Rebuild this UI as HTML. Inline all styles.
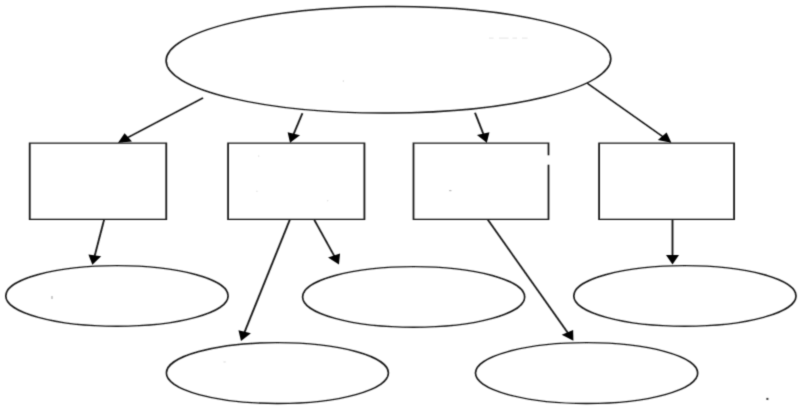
<!DOCTYPE html>
<html><head><meta charset="utf-8"><style>
html,body{margin:0;padding:0;background:#fff;}
body{width:800px;height:416px;overflow:hidden;font-family:"Liberation Sans",sans-serif;}
svg{display:block;}
</style></head><body>
<svg width="800" height="416" viewBox="0 0 800 416">
<defs><filter id="bl" x="0" y="0" width="800" height="416" filterUnits="userSpaceOnUse"><feConvolveMatrix order="3" kernelMatrix="0.0225 0.1050 0.0225 0.1050 0.4900 0.1050 0.0225 0.1050 0.0225" edgeMode="none"/></filter></defs>
<rect width="800" height="416" fill="#fff"/>
<g filter="url(#bl)">
<g transform="scale(1.15 1)" stroke="#151515" fill="none" stroke-width="1.42">
<ellipse cx="337.783" cy="59.8" rx="193.348" ry="53.25" transform="rotate(-0.3 337.783 59.8)"/>
<ellipse cx="101.696" cy="295.9" rx="96.652" ry="30.3"/>
<ellipse cx="359.696" cy="296.95" rx="96.565" ry="30.35"/>
<ellipse cx="595.565" cy="295.9" rx="96.609" ry="30.3"/>
<ellipse cx="241.217" cy="373.05" rx="96.522" ry="30.45"/>
<ellipse cx="510.087" cy="373.07" rx="96.609" ry="30.42"/>
</g>
<g transform="scale(1.3 1)" stroke="#151515" fill="none">
<g stroke-width="1.36" stroke-linejoin="miter">
<path d="M22.869 143.1H127.885V219.35H22.869Z"/>
<path d="M175.431 143.1H280.308V219.35H175.431Z"/>
<path d="M421.923 155.2V143.1H318.077V219.35H421.923V164.8"/>
<path d="M460.846 143.1H564.692V219.35H460.846Z"/>
</g>
<g stroke-width="1.45">
<path d="M156.231 97.9L97.449 138.218"/>
<path d="M232.615 113.3L225.569 135.093"/>
<path d="M365.385 112.8L372.116 135.047"/>
<path d="M451.462 83L510.5 137.316"/>
<path d="M80.192 219.2L72.633 256.858"/>
<path d="M223.077 219.2L187.779 333.262"/>
<path d="M241.5 219.2L257.56 256.947"/>
<path d="M375.077 219.4L437.206 333.585"/>
<path d="M517.308 219L517.308 256.5"/>
</g>
<g fill="#000" stroke="none">
<path d="M90.769 142.8L95.858 133.247L101.514 141.493Z"/>
<path d="M223.077 142.8L221.273 132.127L230.788 135.204Z"/>
<path d="M374.462 142.8L366.896 135.059L376.467 132.163Z"/>
<path d="M516.462 142.8L506.011 139.98L512.782 132.621Z"/>
<path d="M71.038 264.8L68.026 254.404L77.83 256.372Z"/>
<path d="M185.385 341L183.446 330.351L192.999 333.307Z"/>
<path d="M260.731 264.4L252.371 257.524L261.573 253.609Z"/>
<path d="M441.077 340.7L432.097 334.657L440.881 329.878Z"/>
<path d="M517.308 264.6L512.308 255L522.308 255Z"/>
</g>
</g>
<rect x="766.4" y="397.9" width="2" height="2" fill="#333"/>
<rect x="51.5" y="296" width="1" height="3" fill="#999"/>
<g fill="#e4e4e4"><rect x="489" y="37.6" width="4.5" height="1"/><rect x="499" y="37.6" width="9.5" height="1"/><rect x="512.5" y="37.6" width="4.5" height="1"/><rect x="522" y="37.6" width="5.5" height="1"/></g>
<rect x="449.2" y="190" width="2.2" height="1.2" fill="#b8b8b8"/>
<rect x="223.5" y="361.4" width="2.2" height="1.1" fill="#dcdcdc"/>
<g fill="#e2e2e2"><rect x="342.8" y="80.2" width="1.2" height="1.8"/><rect x="258" y="155.4" width="1.3" height="1.3"/><rect x="256.3" y="190.7" width="1.3" height="1.3"/><rect x="327" y="200" width="1.3" height="1.3"/></g>
</g>
</svg>
</body></html>
